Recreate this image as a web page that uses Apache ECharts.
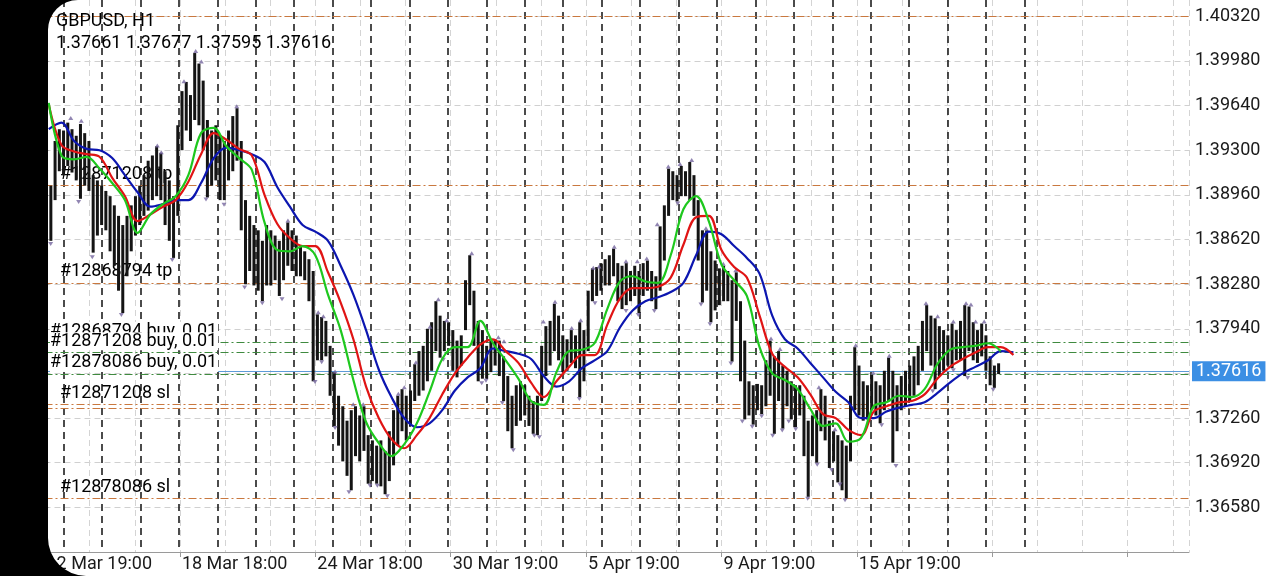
<!DOCTYPE html>
<html><head><meta charset="utf-8">
<script src="https://cdn.jsdelivr.net/npm/echarts@6/dist/echarts.min.js"></script>
<style>
html,body{margin:0;padding:0;width:1280px;height:576px;overflow:hidden;background:#fff;}
#chart{position:absolute;left:0;top:0;width:1280px;height:576px;}
#mask{position:absolute;left:48px;top:0;width:1232px;height:576px;border-radius:30px 0 0 38px;box-shadow:0 0 0 300px #000;pointer-events:none;z-index:5;}
</style></head><body>
<div id="chart"></div><div id="mask"></div>
<script>
// ---------- data ----------
const symbolName = 'GBPUSD, H1';
const lastBarOHLC = [1.37661, 1.37677, 1.37595, 1.37616];
const xTickLabels = ['12 Mar 19:00','18 Mar 18:00','24 Mar 18:00','30 Mar 19:00','5 Apr 19:00','9 Apr 19:00','15 Apr 19:00'];
const hoursPerLabel = 96;
const firstBarHour = 4.5;
const barHours = 3;
const barHigh = [
1.3903,1.3937,1.3946,1.3945,1.3951,1.3946,1.3941,1.3950,1.3943,1.3937,
1.3911,1.3907,1.3903,1.3899,1.3895,1.3888,1.3880,1.3873,1.3880,1.3888,
1.3895,1.3903,1.3911,1.3922,1.3926,1.3933,1.3928,1.3914,1.3907,1.3895,
1.3949,1.3975,1.3982,1.3972,1.4004,1.3996,1.3983,1.3953,1.3945,1.3949,
1.3941,1.3937,1.3945,1.3956,1.3962,1.3937,1.3892,1.3880,1.3873,1.3869,
1.3861,1.3873,1.3869,1.3865,1.3861,1.3869,1.3875,1.3869,1.3865,1.3857,
1.3853,1.3847,1.3838,1.3805,1.3803,1.3800,1.3781,1.3761,1.3743,1.3735,
1.3724,1.3732,1.3735,1.3728,1.3735,1.3713,1.3709,1.3705,1.3709,1.3701,
1.3716,1.3732,1.3743,1.3748,1.3743,1.3747,1.3767,1.3777,1.3781,1.3794,
1.3799,1.3815,1.3804,1.3800,1.3799,1.3793,1.3785,1.3789,1.3831,1.3850,
1.3823,1.3800,1.3793,1.3781,1.3785,1.3786,1.3785,1.3773,1.3758,1.3743,
1.3751,1.3754,1.3751,1.3743,1.3739,1.3743,1.3781,1.3796,1.3800,1.3813,
1.3804,1.3789,1.3786,1.3793,1.3789,1.3799,1.3793,1.3823,1.3840,1.3841,
1.3844,1.3847,1.3850,1.3855,1.3844,1.3842,1.3844,1.3838,1.3842,1.3838,
1.3844,1.3846,1.3838,1.3834,1.3872,1.3888,1.3916,1.3914,1.3911,1.3918,
1.3914,1.3921,1.3911,1.3892,1.3869,1.3869,1.3853,1.3846,1.3840,1.3842,
1.3838,1.3831,1.3837,1.3815,1.3785,1.3754,1.3751,1.3752,1.3751,1.3770,
1.3785,1.3773,1.3777,1.3766,1.3762,1.3754,1.3751,1.3751,1.3743,1.3724,
1.3728,1.3732,1.3748,1.3743,1.3724,1.3716,1.3713,1.3709,1.3705,1.3743,
1.3780,1.3766,1.3754,1.3751,1.3759,1.3754,1.3751,1.3762,1.3772,1.3762,
1.3751,1.3758,1.3762,1.3766,1.3773,1.3781,1.3800,1.3812,1.3804,1.3802,
1.3796,1.3793,1.3789,1.3798,1.3793,1.3800,1.3812,1.3811,1.3799,1.3793,
1.3798,1.3789,1.3773,1.3766,1.37677];
const barLow = [
1.3861,1.3892,1.3914,1.3911,1.3918,1.3913,1.3907,1.3893,1.3903,1.3899,
1.3852,1.3865,1.3873,1.3869,1.3853,1.3842,1.3823,1.3806,1.3834,1.3853,
1.3865,1.3873,1.3880,1.3884,1.3892,1.3895,1.3892,1.3873,1.3861,1.3848,
1.3880,1.3930,1.3945,1.3937,1.3953,1.3949,1.3930,1.3894,1.3903,1.3907,
1.3892,1.3892,1.3907,1.3914,1.3922,1.3869,1.3828,1.3838,1.3827,1.3823,
1.3815,1.3827,1.3827,1.3831,1.3819,1.3831,1.3842,1.3838,1.3834,1.3834,
1.3831,1.3815,1.3754,1.3770,1.3770,1.3773,1.3743,1.3720,1.3705,1.3693,
1.3682,1.3671,1.3697,1.3693,1.3701,1.3676,1.3678,1.3676,1.3674,1.3668,
1.3678,1.3690,1.3705,1.3716,1.3709,1.3720,1.3739,1.3743,1.3747,1.3754,
1.3762,1.3777,1.3772,1.3777,1.3781,1.3762,1.3757,1.3766,1.3793,1.3812,
1.3781,1.3754,1.3756,1.3756,1.3761,1.3766,1.3758,1.3739,1.3716,1.3703,
1.3720,1.3724,1.3728,1.3720,1.3714,1.3713,1.3739,1.3758,1.3766,1.3777,
1.3770,1.3761,1.3762,1.3768,1.3764,1.3742,1.3754,1.3777,1.3815,1.3819,
1.3823,1.3827,1.3827,1.3834,1.3815,1.3809,1.3812,1.3815,1.3819,1.3806,
1.3819,1.3823,1.3815,1.3809,1.3823,1.3846,1.3880,1.3892,1.3891,1.3895,
1.3895,1.3892,1.3880,1.3846,1.3814,1.3823,1.3799,1.3808,1.3812,1.3815,
1.3815,1.3769,1.3800,1.3754,1.3725,1.3728,1.3721,1.3732,1.3729,1.3735,
1.3743,1.3714,1.3739,1.3718,1.3735,1.3725,1.3719,1.3728,1.3697,1.3666,
1.3697,1.3692,1.3716,1.3709,1.3688,1.3693,1.3677,1.3671,1.3665,1.3693,
1.3732,1.3728,1.3724,1.3725,1.3732,1.3728,1.3722,1.3732,1.3739,1.3692,
1.3716,1.3732,1.3735,1.3739,1.3743,1.3751,1.3762,1.3777,1.3766,1.3748,
1.3758,1.3762,1.3766,1.3764,1.3770,1.3770,1.3758,1.3777,1.3770,1.3768,
1.3773,1.3762,1.3751,1.3749,1.37595];

// Alligator lines, sampled every 9 hours from hour 3
const maStartHour = 3;
const maStepHours = 9;
const lipsGreen = [
1.3966,1.3926,1.3923,1.3925,1.3916,1.3905,1.3892,1.3867,1.3881,1.3889,
1.3895,1.3911,1.3943,1.3947,1.3933,1.3924,1.3915,1.3875,1.3854,1.3853,
1.3857,1.3850,1.3820,1.3793,1.3755,1.3723,1.3707,1.3697,1.3706,1.3722,
1.3746,1.3771,1.3780,1.3780,1.3800,1.3783,1.3770,1.3756,1.3739,1.3736,
1.3761,1.3777,1.3778,1.3783,1.3809,1.3830,1.3834,1.3830,1.3829,1.3850,
1.3885,1.3895,1.3876,1.3843,1.3831,1.3819,1.3780,1.3760,1.3755,1.3748,
1.3733,1.3720,1.3722,1.3708,1.3711,1.3735,1.3738,1.3743,1.3742,1.3748,
1.3767,1.3778,1.3780,1.3781,1.3783,1.3777];
const teethRed = [
1.3965,1.3934,1.3929,1.3927,1.3925,1.3909,1.3895,1.3876,1.3881,1.3887,
1.3892,1.3906,1.3927,1.3943,1.3938,1.3931,1.3926,1.3896,1.3874,1.3863,
1.3857,1.3857,1.3837,1.3814,1.3786,1.3750,1.3726,1.3710,1.3703,1.3713,
1.3726,1.3744,1.3760,1.3772,1.3782,1.3786,1.3777,1.3768,1.3753,1.3742,
1.3754,1.3765,1.3774,1.3774,1.3797,1.3817,1.3825,1.3825,1.3826,1.3833,
1.3858,1.3879,1.3880,1.3854,1.3841,1.3833,1.3804,1.3775,1.3765,1.3757,
1.3744,1.3729,1.3726,1.3717,1.3713,1.3731,1.3735,1.3738,1.3739,1.3744,
1.3756,1.3765,1.3771,1.3776,1.3780,1.3780,1.3774];
const jawBlue = [
1.3946,1.3951,1.3937,1.3931,1.3930,1.3924,1.3911,1.3898,1.3887,1.3889,
1.3892,1.3892,1.3905,1.3924,1.3932,1.3930,1.3927,1.3921,1.3902,1.3887,
1.3873,1.3868,1.3861,1.3842,1.3820,1.3793,1.3763,1.3742,1.3726,1.3719,
1.3722,1.3732,1.3747,1.3757,1.3764,1.3779,1.3777,1.3775,1.3771,1.3758,
1.3750,1.3754,1.3764,1.3770,1.3777,1.3795,1.3808,1.3815,1.3818,1.3822,
1.3829,1.3850,1.3868,1.3866,1.3857,1.3848,1.3836,1.3804,1.3786,1.3779,
1.3768,1.3757,1.3746,1.3738,1.3726,1.3726,1.3731,1.3734,1.3736,1.3738,
1.3745,1.3753,1.3760,1.3765,1.3770,1.3777,1.3776];

// fractal markers [hour, price]
const fractalUp = [[18.6,1.3953],[26.1,1.3951],[80.0,1.3932],[82.8,1.3927],[98.9,1.3981],[107.2,1.4004],[111.2,1.3996],[136.3,1.3962],[172.6,1.3875],[194.1,1.3805],[197.7,1.3802],[206.0,1.3760],[218.9,1.3735],[226.0,1.3735],[250.9,1.3743],[255.1,1.3748],[263.4,1.3767],[273.3,1.3794],[279.2,1.3815],[285.2,1.3799],[302.9,1.3850],[321.8,1.3786],[325.8,1.3783],[353.7,1.3798],[362.0,1.3813],[373.8,1.3793],[380.2,1.3799],[389.1,1.3839],[393.2,1.3840],[404.0,1.3855],[412.3,1.3844],[420.3,1.3844],[427.0,1.3846],[434.5,1.3872],[442.3,1.3916],[450.6,1.3918],[458.9,1.3921],[469.0,1.3869],[481.3,1.3842],[490.1,1.3837],[515.1,1.3785],[521.5,1.3777],[549.1,1.3748],[560.5,1.3716],[575.2,1.3780],[587.6,1.3759],[599.0,1.3772],[625.0,1.3812],[633.3,1.3802],[644.4,1.3798],[653.4,1.3812],[656.9,1.3811],[660.2,1.3798],[666.3,1.3798]];
const fractalDown = [[4.4,1.3860],[24.2,1.3892],[33.9,1.3850],[54.5,1.3806],[90.6,1.3848],[114.5,1.3894],[127.3,1.3890],[141.9,1.3827],[154.4,1.3815],[168.4,1.3818],[191.8,1.3755],[196.5,1.3770],[206.0,1.3720],[215.9,1.3671],[230.8,1.3676],[236.0,1.3676],[243.1,1.3668],[282.8,1.3772],[310.0,1.3754],[313.0,1.3756],[324.6,1.3739],[332.4,1.3703],[347.3,1.3714],[350.8,1.3713],[379.2,1.3742],[390.3,1.3815],[412.3,1.3809],[421.0,1.3806],[432.4,1.3809],[449.0,1.3891],[465.5,1.3814],[471.9,1.3799],[486.7,1.3769],[494.8,1.3725],[501.8,1.3721],[508.5,1.3729],[516.3,1.3714],[523.1,1.3718],[527.7,1.3725],[532.6,1.3719],[541.1,1.3666],[547.9,1.3692],[558.1,1.3688],[564.0,1.3677],[567.6,1.3665],[593.6,1.3722],[603.7,1.3691],[629.8,1.3748],[644.4,1.3764],[654.6,1.3758],[672.7,1.3749]];

// trade levels
const levelNames  = ['', '#12871208 tp', '#12868794 tp', '#12868794 buy, 0.01', '#12871208 buy, 0.01', '#12878086 buy, 0.01', '', '#12871208 sl', '#12878086 sl'];
const levelPrices = [1.4032, 1.39035, 1.38289, 1.37839, 1.37761, 1.37596, 1.37337, 1.37363, 1.36649];
const levelKinds  = ['tp','tp','tp','buy','buy','buy','sl','sl','sl'];

// axis ranges
const yMin = 1.3624, yMax = 1.40444, yStep = 0.0034;
const xMin = 0, xMax = 811.5;

// ---------- chart ----------
const FONT = 'Roboto';
const lastClose = lastBarOHLC[3];
const chart = echarts.init(document.getElementById('chart'), null, {renderer:'canvas'});

const levelData = levelPrices.map((p, i) => {
  const isBuy = levelKinds[i] === 'buy';
  return {
    yAxis: p,
    lineStyle: {color: isBuy ? '#3f8a3f' : '#c9783f', width: 1, type: [8,3,2,3]},
    label: {
      show: levelNames[i] !== '',
      formatter: levelNames[i],
      position: 'insideStartTop',
      distance: [isBuy ? 5.5 : 15.5, 2],
      fontFamily: FONT, fontSize: 18, color: '#000',
      backgroundColor: isBuy ? '#fff' : 'transparent',
      lineHeight: 18, padding: [0,1,0,0]
    }
  };
});
levelData.push({
  yAxis: lastClose,
  lineStyle: {color: '#5d9bd8', width: 1, type: 'solid'},
  label: {
    show: true, position: 'end', distance: 3,
    formatter: lastClose.toFixed(5),
    fontFamily: FONT, fontSize: 18, color: '#fff',
    backgroundColor: '#3c8fe4', padding: [2,4,1,4], lineHeight: 17
  }
});

const option = {
  animation: false,
  backgroundColor: 'transparent',
  title: [
    {text: symbolName, left: 56, top: 12, padding: 0,
     textStyle: {fontFamily: FONT, fontSize: 18, fontWeight: 'normal', color: '#000'}},
    {text: lastBarOHLC.map(v => v.toFixed(5)).join(' '), left: 56, top: 34, padding: 0,
     textStyle: {fontFamily: FONT, fontSize: 18, fontWeight: 'normal', color: '#000'}}
  ],
  grid: [
    {left: 44.5, right: 91, top: 0, bottom: 24, containLabel: false},
    {left: 63.5, right: 255.5, top: 0, bottom: 24, containLabel: false}
  ],
  xAxis: [
    {type: 'value', gridIndex: 0, min: xMin, max: xMax, interval: hoursPerLabel,
     axisLine: {show: true, lineStyle: {color: '#9a9a9a', width: 1}},
     axisTick: {show: true, length: 5, lineStyle: {color: '#9a9a9a'}},
     splitLine: {show: false},
     axisLabel: {show: true, showMinLabel: true, showMaxLabel: false, align: 'left', margin: 3, padding: [0,0,0,2],
       fontFamily: FONT, fontSize: 18, color: '#1a1a1a',
       formatter: v => { const k = Math.round(v / hoursPerLabel); return Math.abs(v - k*hoursPerLabel) < 1e-6 ? (xTickLabels[k] || '') : ''; }}
    },
    {type: 'value', gridIndex: 0, min: xMin, max: xMax, interval: 32, position: 'bottom',
     axisLine: {show: false}, axisTick: {show: false}, axisLabel: {show: false},
     splitLine: {show: true, lineStyle: {color: '#d4d4d4', width: 1, type: [6,4]}}
    },
    {type: 'value', gridIndex: 1, min: 0, max: 25, interval: 1,
     axisLine: {show: false}, axisTick: {show: false}, axisLabel: {show: false},
     splitLine: {show: true, lineStyle: {color: '#111', width: 1.5, type: [7,5]}}
    }
  ],
  yAxis: [
    {type: 'value', gridIndex: 0, position: 'right', min: yMin, max: yMax, interval: yStep, scale: true,
     axisLine: {show: true, lineStyle: {color: '#9a9a9a', width: 1}},
     axisTick: {show: true, length: 4, lineStyle: {color: '#9a9a9a'}},
     splitLine: {show: true, showMaxLine: false, lineStyle: {color: '#d0d0d0', width: 1, type: [6,4]}},
     axisLabel: {show: true, showMinLabel: false, margin: 6, fontFamily: FONT, fontSize: 18, color: '#1a1a1a',
       formatter: v => {
         const k = (v - yMin) / yStep;
         if (Math.abs(k - Math.round(k)) > 1e-6 || Math.round(k) === 0) return '';
         if (Math.abs(v - lastClose) < 0.0008) return '';
         return v.toFixed(5);
       }}
    },
    {type: 'value', gridIndex: 1, min: 0, max: 1, show: false}
  ],
  series: [
    {type: 'line', name: 'levels', xAxisIndex: 0, yAxisIndex: 0, data: [], z: 1,
     markLine: {silent: true, symbol: ['none','none'], precision: 5, z: 1, animation: false, data: levelData}},
    {type: 'custom', name: 'bars', xAxisIndex: 0, yAxisIndex: 0, z: 3,
     data: barHigh.map((hi, j) => [firstBarHour + barHours * j, hi, barLow[j]]),
     encode: {x: 0, y: [1, 2]},
     renderItem: (params, api) => {
       const top = api.coord([api.value(0), api.value(1)]);
       const bot = api.coord([api.value(0), api.value(2)]);
       return {type: 'rect', shape: {x: top[0] - 1.5, y: top[1], width: 3, height: Math.max(1, bot[1] - top[1])},
               style: {fill: '#141414'}};
     }},
    {type: 'scatter', name: 'fractalUp', xAxisIndex: 0, yAxisIndex: 0, z: 3, data: fractalUp,
     symbol: 'triangle', symbolSize: [5, 4], symbolOffset: [0, -2], itemStyle: {color: '#75679f'}},
    {type: 'scatter', name: 'fractalDown', xAxisIndex: 0, yAxisIndex: 0, z: 3, data: fractalDown,
     symbol: 'triangle', symbolRotate: 180, symbolSize: [5, 4], symbolOffset: [0, 2], itemStyle: {color: '#75679f'}},
    {type: 'line', name: 'jaw', xAxisIndex: 0, yAxisIndex: 0, z: 4, showSymbol: false, smooth: 0.35,
     data: jawBlue.map((v, k) => [maStartHour + maStepHours * k, v]),
     lineStyle: {color: '#0c16b0', width: 2.2}},
    {type: 'line', name: 'teeth', xAxisIndex: 0, yAxisIndex: 0, z: 5, showSymbol: false, smooth: 0.35,
     data: teethRed.map((v, k) => [maStartHour + maStepHours * k, v]),
     lineStyle: {color: '#e01414', width: 2.2}},
    {type: 'line', name: 'lips', xAxisIndex: 0, yAxisIndex: 0, z: 6, showSymbol: false, smooth: 0.35,
     data: lipsGreen.map((v, k) => [maStartHour + maStepHours * k, v]),
     lineStyle: {color: '#1ec81e', width: 2.2}}
  ]
};
chart.setOption(option);
</script></body></html>
